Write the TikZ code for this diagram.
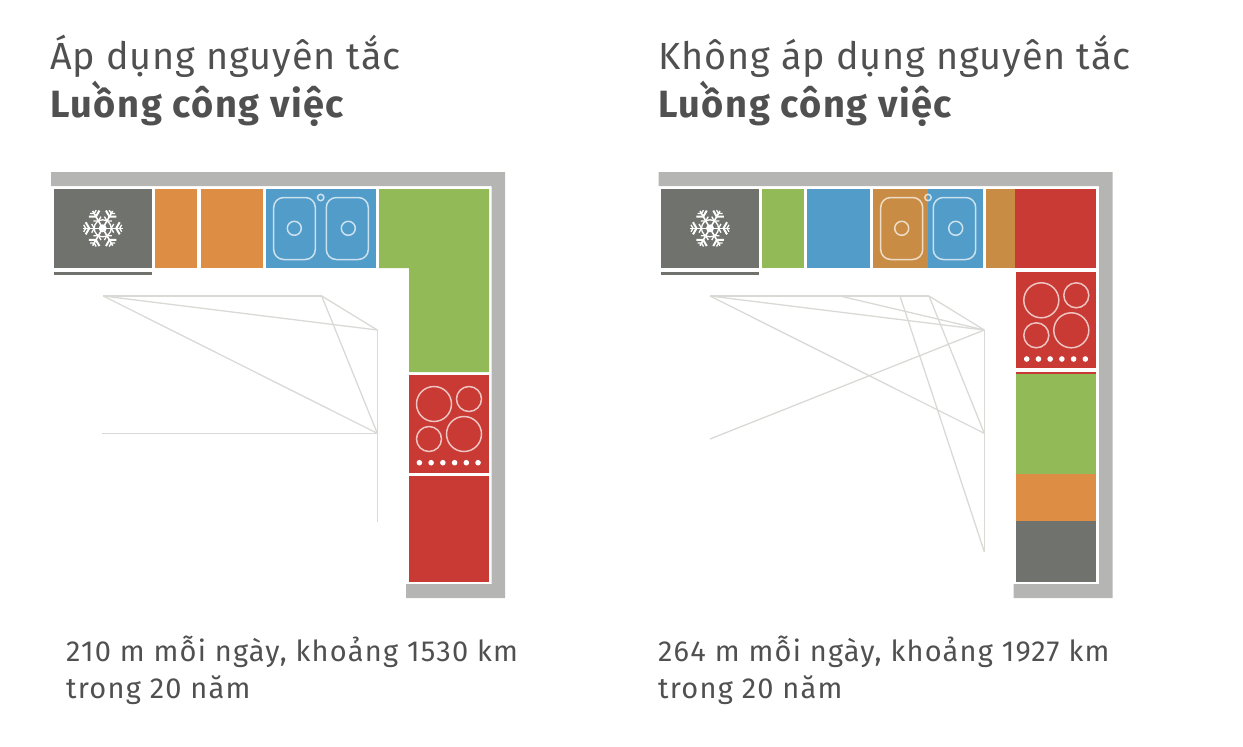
\documentclass[tikz,border=0pt]{standalone}
\usepackage{fontspec}
\setmainfont{Fira Sans}[BoldFont={Fira Sans Bold}]
\usepackage{tikz}
\usetikzlibrary{positioning,calc}

\definecolor{wallgray}{HTML}{B5B5B3}
\definecolor{fridgegray}{HTML}{70726D}
\definecolor{unitorange}{HTML}{DE8D45}
\definecolor{sinkorange}{HTML}{C98C45}
\definecolor{unitblue}{HTML}{519CC9}
\definecolor{unitgreen}{HTML}{92BB57}
\definecolor{unitred}{HTML}{C83A33}
\definecolor{walkgray}{HTML}{D9D9D5}
\definecolor{textgray}{HTML}{505050}

\tikzset{
  walk/.style={draw=walkgray, line width=1.3pt},
  fitting/.style={draw=white, opacity=0.7, line width=1.5pt},
  title/.style={anchor=base west, inner sep=0pt, text=textgray, font=\fontsize{37.8}{38}\selectfont\addfontfeatures{LetterSpace=2.5}},
  headline/.style={anchor=base west, inner sep=0pt, text=textgray, font=\fontsize{38}{38}\selectfont\bfseries\addfontfeatures{LetterSpace=4}},
  note/.style={anchor=base west, inner sep=0pt, text=textgray, font=\fontsize{29}{29}\selectfont\addfontfeatures{LetterSpace=4.2}},
}

\newcommand{\walls}[1]{
  \fill[wallgray] (#1+51,172) -- (#1+505,172) -- (#1+505,598) -- (#1+406,598) -- (#1+406,584)
    -- (#1+491.5,584) -- (#1+491.5,186) -- (#1+51,186) -- cycle;
}
\newcommand{\snowflake}[2]{
  \begin{scope}[shift={(#1,#2)}, white, line width=1.3pt]
    \fill (0,0) circle (4);
    \draw (0,0) circle (8.5);
    \foreach \ang in {0,60,...,300} {
      \begin{scope}[rotate=\ang]
        \draw[line width=1.6pt] (0,0) -- (20,0);
        \draw (8.5,0) -- +(60:5) (8.5,0) -- +(-60:5);
        \draw[line width=2pt] (13.5,0) -- +(60:7) (13.5,0) -- +(-60:7);
        \draw (17,0) -- +(60:4) (17,0) -- +(-60:4);
      \end{scope}
    }
  \end{scope}
}
\newcommand{\sinkbowl}[3]{
  \draw[fitting, rounded corners=10pt] (#1,197.5) rectangle (#2,259.5);
  \draw[fitting] (#3,228.3) circle (7);
}
\newcommand{\hob}[2]{
  \begin{scope}[shift={(#1,#2)}]
    \draw[fitting] (25,29) circle (17.5);
    \draw[fitting] (60,24) circle (12.5);
    \draw[fitting] (20,64) circle (12.5);
    \draw[fitting] (55,59) circle (17.5);
    \foreach \i in {0,...,5}
      \fill[white] (10.4+11.73*\i,87.7) circle (2.8);
  \end{scope}
}

\begin{document}
\begin{tikzpicture}[x=1pt,y=-1pt]
\useasboundingbox (0,0) rectangle (1243,747);

\node[title] (titleA) at (50,69) {Áp dụng nguyên tắc};
\node[headline] (headA) at (50,117) {Luồng công việc};
\node[title] (titleB) at (658,69) {Không áp dụng nguyên tắc};
\node[headline] (headB) at (658,117) {Luồng công việc};

\node[note] (noteA) at (66,661) {210 m mỗi ngày, khoảng 1530 km};
\node[note] (yearsA) at (66,698) {trong 20 năm};
\node[note] (noteB) at (658,661) {264 m mỗi ngày, khoảng 1927 km};
\node[note] (yearsB) at (658,698) {trong 20 năm};

\walls{0}
\walls{607.5}

% left kitchen
\fill[fridgegray] (54,189) rectangle (152,268);
\fill[fridgegray] (54,272) rectangle (152,275);
\snowflake{102.7}{228.3}
\fill[unitorange] (155,189) rectangle (197.3,268);
\fill[unitorange] (200.5,189) rectangle (262.7,268);
\fill[unitblue] (266,189) rectangle (376,268);
\sinkbowl{273.7}{315.3}{294.3}
\sinkbowl{326.3}{368.3}{348.3}
\draw[fitting] (320.7,197.5) circle (3.2);
\fill[unitgreen] (379,189) -- (489,189) -- (489,372) -- (409,372) -- (409,268) -- (379,268) -- cycle;
\fill[unitred] (409,375) rectangle (489,472.7);
\hob{409}{375}
\fill[unitred] (409,475.7) rectangle (489,581.7);

% right kitchen
\fill[fridgegray] (661.3,189) rectangle (758.7,268);
\fill[fridgegray] (661.3,272) rectangle (758.7,275);
\snowflake{710}{228.3}
\fill[unitgreen] (762,189) rectangle (804.3,268);
\fill[unitblue] (807.3,189) rectangle (870,268);
\fill[sinkorange] (873.3,189) rectangle (928,268);
\fill[unitblue] (928,189) rectangle (983,268);
\sinkbowl{880.7}{922.7}{901.7}
\sinkbowl{933.3}{975.7}{955.7}
\draw[fitting] (928,197.5) circle (3.2);
\fill[sinkorange] (986.3,189) rectangle (1014.7,268);
\fill[unitred] (1014.7,189) rectangle (1096,268);
\fill[unitred] (1016.3,271.7) rectangle (1096,368.3);
\hob{1016.3}{271.3}
\fill[unitred] (1016.3,372) rectangle (1096,374);
\fill[unitgreen] (1016.3,374) rectangle (1096,474.3);
\fill[unitorange] (1016.3,474.3) rectangle (1096,521);
\fill[fridgegray] (1016.3,521) rectangle (1096,581.7);

% walking lines
\coordinate (la) at (103.3,296);
\coordinate (lb) at (321.7,296);
\coordinate (lc) at (377.3,330);
\coordinate (ld) at (377.3,433.3);
\coordinate (le) at (377.3,522.3);
\coordinate (lf) at (102.3,433.3);
\foreach \from/\to in {la/lb,lb/lc,la/lc,la/ld,lb/ld,lf/ld,lc/le}
  \draw[walk] (\from) -- (\to);

\coordinate (ra) at (710,296);
\coordinate (rg) at (840,296);
\coordinate (rh) at (900,296);
\coordinate (rb) at (929,296);
\coordinate (rc) at (984.3,330);
\coordinate (rd) at (984.3,433.3);
\coordinate (re) at (984.3,551.7);
\coordinate (rf) at (710,439);
\foreach \from/\to in {ra/rb,rb/rc,ra/rc,ra/rd,rg/rc,rh/re,rb/rd,rf/rc,rc/re}
  \draw[walk] (\from) -- (\to);

\end{tikzpicture}
\end{document}
